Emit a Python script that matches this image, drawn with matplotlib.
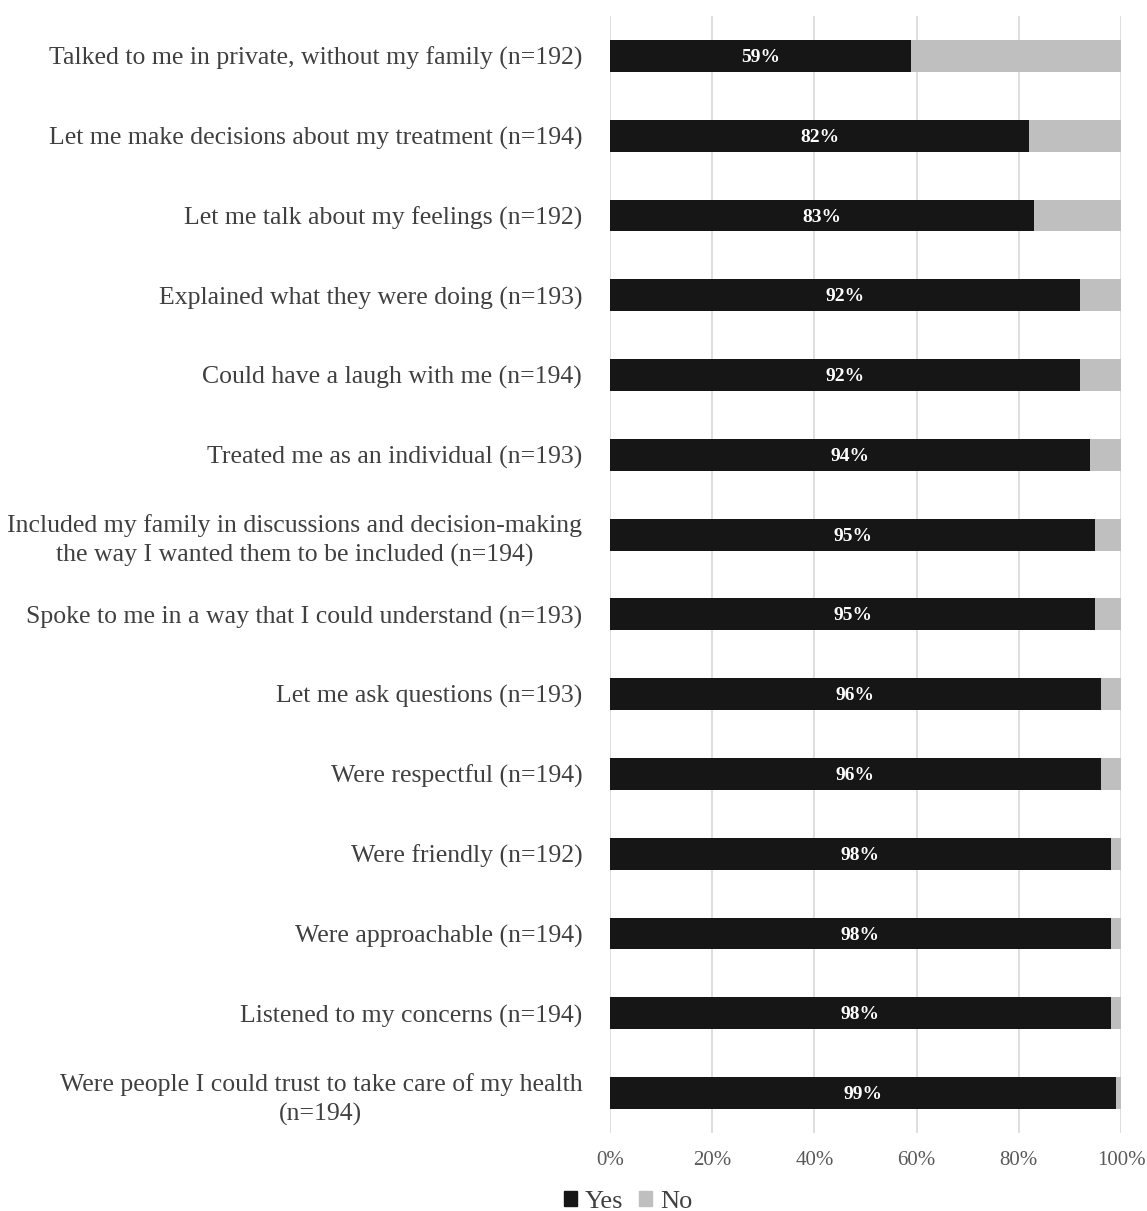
import matplotlib
matplotlib.use("Agg")
import matplotlib.pyplot as plt
from matplotlib.patches import Patch

plt.rcParams['font.family'] = ['Liberation Serif', 'DejaVu Serif']

labels = [
    "Talked to me in private, without my family (n=192)",
    "Let me make decisions about my treatment (n=194)",
    "Let me talk about my feelings (n=192)",
    "Explained what they were doing (n=193)",
    "Could have a laugh with me (n=194)",
    "Treated me as an individual (n=193)",
    "Included my family in discussions and decision-making\nthe way I wanted them to be included (n=194)",
    "Spoke to me in a way that I could understand (n=193)",
    "Let me ask questions (n=193)",
    "Were respectful (n=194)",
    "Were friendly (n=192)",
    "Were approachable (n=194)",
    "Listened to my concerns (n=194)",
    "Were people I could trust to take care of my health\n(n=194)",
]
yes = [59, 82, 83, 92, 92, 94, 95, 95, 96, 96, 98, 98, 98, 99]
no = [100 - v for v in yes]

YES_C = '#161616'
NO_C = '#bfbfbf'
TXT = '#404040'

fig = plt.figure(figsize=(11.47, 12.11), dpi=100)
ax = fig.add_axes([610/1147, 78/1211, 511/1147, 1117/1211])

ypos = list(range(len(labels)))
ax.barh(ypos, yes, height=0.4, color=YES_C, zorder=3)
ax.barh(ypos, no, left=yes, height=0.4, color=NO_C, zorder=3)
for y, v in zip(ypos, yes):
    ax.text(v / 2, y + 0.02, '%d%%' % v, ha='center', va='center', color='white',
            fontsize=14, fontweight='bold', zorder=4)

ax.set_xlim(0, 100)
ax.set_ylim(len(labels) - 0.5, -0.5)
ax.set_xticks(range(0, 101, 20))
ax.set_xticklabels(['%d%%' % t for t in range(0, 101, 20)])
ax.set_yticks(ypos)
ax.set_yticklabels(labels, ha='right', multialignment='center', linespacing=1.38)
ax.tick_params(axis='y', length=0, labelsize=18.5, colors=TXT, pad=20)
ax.tick_params(axis='x', length=0, labelsize=15, colors='#595959', pad=13)

ax.grid(axis='x', color='#d9d9d9', linewidth=1.2, zorder=0)
for s in ax.spines.values():
    s.set_visible(False)

handles = [Patch(color=YES_C, label='Yes'), Patch(color=NO_C, label='No')]
fig.legend(handles=handles, loc='center', bbox_to_anchor=(628/1147, 1 - 1202/1211),
           ncol=2, frameon=False, fontsize=19, handlelength=0.5, handleheight=0.5,
           handletextpad=0.3, columnspacing=0.6, labelcolor=TXT)

fig.savefig('out.png', dpi=100)
